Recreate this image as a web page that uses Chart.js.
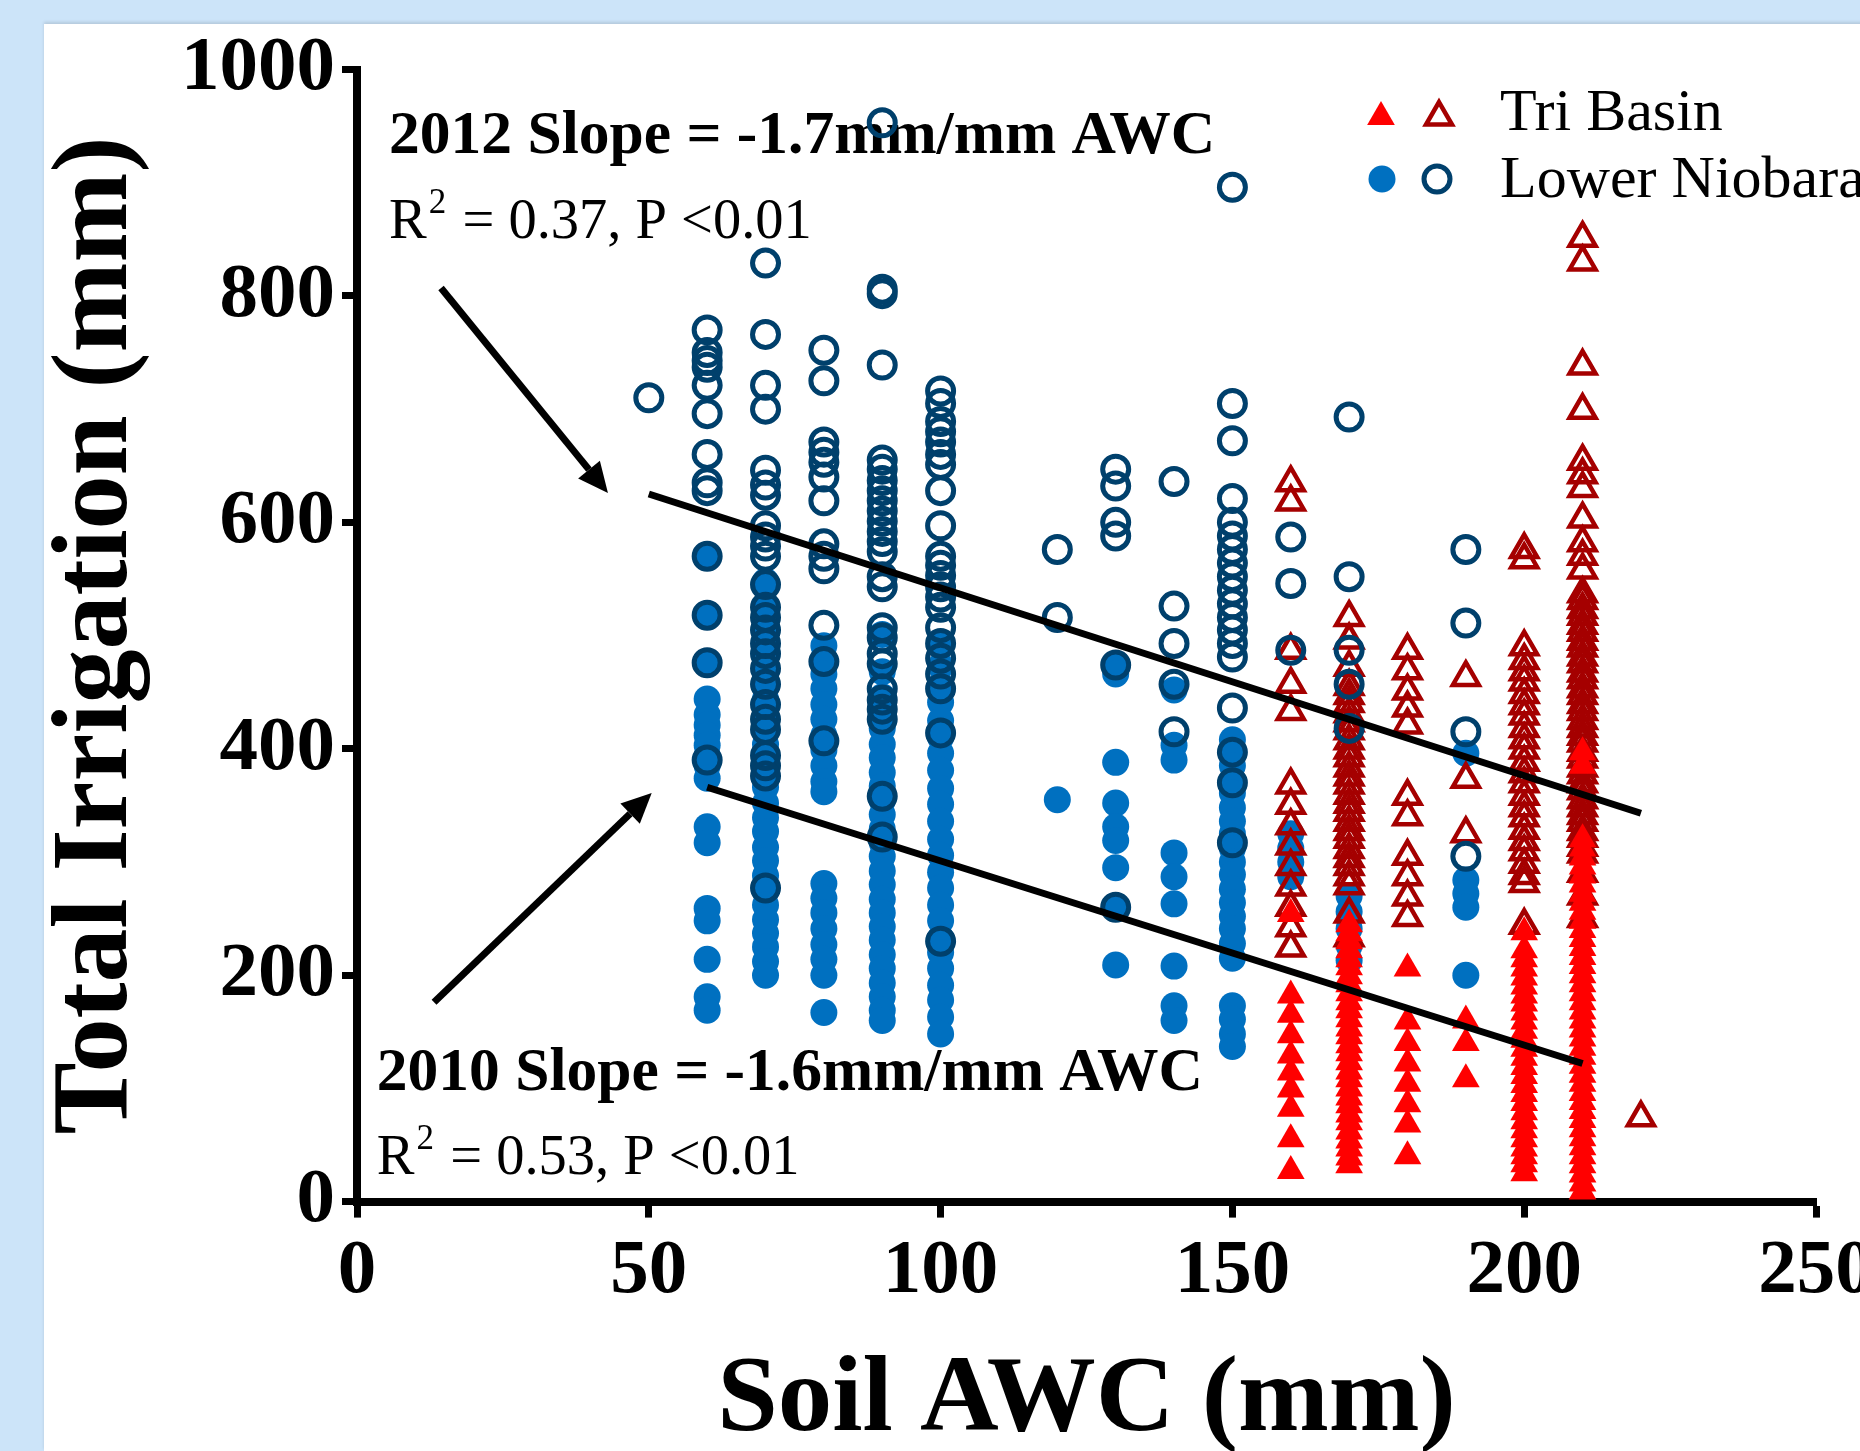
<!DOCTYPE html>
<html>
<head>
<meta charset="utf-8">
<script src="https://cdn.jsdelivr.net/npm/chart.js@4.4.1/dist/chart.umd.min.js"></script>
<style>
  html, body { margin: 0; padding: 0; width: 1860px; height: 1451px; overflow: hidden; background: #cce4f9; }
  #panel { position: absolute; left: 44px; top: 24px; width: 1900px; height: 1427px; background: #fff; box-shadow: 0 -2px 3px rgba(0,0,0,0.12); }
</style>
</head>
<body>
<div id="panel"><canvas id="scatter-chart"></canvas></div>
<script>
// Each entry: [soil AWC (mm), [total irrigation values (mm) at that AWC]]
const lowerNiobrara2012 = [
  [50, [710]],
  [60, [770, 750, 743, 737, 721, 696, 660, 635, 628, 570, 518, 476, 390]],
  [70, [829, 766, 721, 700, 646, 633, 624, 597, 587, 579, 570, 545, 525, 516, 505, 493, 484, 471, 457, 439, 426, 417, 394, 385, 376, 277]],
  [80, [752, 725, 671, 662, 653, 640, 619, 581, 570, 559, 509, 477, 407]],
  [90, [953, 806, 802, 739, 655, 647, 637, 628, 619, 610, 601, 592, 583, 574, 552, 543, 507, 498, 484, 475, 453, 443, 435, 426, 358, 322]],
  [100, [716, 705, 689, 680, 671, 660, 651, 628, 597, 570, 562, 553, 543, 534, 525, 507, 493, 480, 466, 453, 414, 230]],
  [120, [576, 516]],
  [130, [647, 632, 600, 588, 474, 260]],
  [140, [636, 526, 493, 457, 415]],
  [150, [896, 705, 672, 621, 600, 588, 576, 564, 552, 540, 528, 516, 505, 493, 481, 436, 397, 370, 317]],
  [160, [587, 546, 487]],
  [170, [693, 552, 487, 457, 418]],
  [190, [576, 511, 415, 305]]
];

const lowerNiobrara2010 = [
  [60, [570, 518, 476, 444, 430, 421, 412, 403, 394, 385, 374, 331, 317, 259, 248, 214, 181, 169]],
  [70, [548, 527, 506, 489, 473, 458, 444, 431, 418, 404, 391, 378, 366, 352, 339, 327, 313, 301, 288, 274, 262, 249, 237, 225, 212, 200]],
  [80, [491, 480, 466, 453, 439, 426, 412, 399, 385, 371, 362, 281, 268, 255, 241, 227, 214, 200, 167]],
  [90, [501, 468, 446, 431, 418, 404, 392, 379, 367, 354, 342, 329, 317, 305, 292, 280, 267, 255, 243, 231, 218, 206, 193, 181, 169, 160]],
  [100, [491, 473, 456, 441, 425, 410, 396, 381, 365, 351, 336, 320, 306, 291, 277, 262, 248, 233, 220, 206, 191, 178, 163, 148]],
  [120, [355]],
  [130, [474, 466, 388, 352, 331, 319, 295, 260, 209]],
  [140, [452, 403, 390, 308, 287, 263, 208, 173, 160]],
  [150, [408, 396, 385, 372, 361, 348, 336, 325, 312, 300, 289, 276, 264, 252, 241, 228, 215, 173, 161, 148, 137]],
  [160, [325, 312, 300, 287]],
  [170, [270, 256, 241, 226, 213]],
  [190, [396, 284, 272, 260, 200]]
];

const triBasin2012 = [
  [160, [635, 618, 487, 457, 433, 368, 350, 332, 314, 296, 278, 260, 242, 224]],
  [170, [516, 496, 472, 455, 447, 440, 431, 423, 416, 407, 399, 392, 383, 375, 368, 359, 351, 344, 335, 327, 320, 311, 303, 296, 287, 279, 254, 233]],
  [180, [487, 469, 451, 436, 421, 358, 340, 305, 287, 269, 251]],
  [190, [463, 373, 325]],
  [200, [576, 567, 490, 478, 468, 459, 448, 438, 429, 418, 408, 399, 388, 378, 369, 358, 348, 339, 328, 318, 309, 298, 288, 281, 244]],
  [210, [851, 830, 738, 699, 654, 642, 630, 603, 582, 570, 558, 537, 531, 523, 517, 509, 503, 495, 489, 481, 475, 467, 461, 453, 447, 439, 433, 425, 418, 411, 405, 397, 391, 383, 377, 369, 363, 355, 348, 341, 335, 327, 321, 313, 307, 290, 270, 250]],
  [220, [74]]
];

const triBasin2010 = [
  [160, [254, 182, 165, 147, 129, 114, 99, 82, 55, 27]],
  [170, [245, 237, 230, 222, 214, 207, 199, 192, 184, 176, 169, 161, 153, 146, 138, 131, 123, 115, 108, 100, 92, 85, 77, 70, 62, 54, 47, 39, 32]],
  [180, [206, 159, 140, 122, 104, 86, 68, 40]],
  [190, [160, 140, 108]],
  [200, [238, 222, 214, 206, 198, 190, 182, 175, 167, 159, 151, 143, 135, 127, 119, 111, 103, 95, 87, 79, 71, 63, 55, 47, 40, 33, 25]],
  [210, [397, 385, 320, 312, 304, 296, 288, 280, 272, 264, 256, 248, 240, 232, 224, 216, 208, 200, 192, 184, 176, 168, 160, 152, 144, 136, 128, 120, 112, 104, 96, 88, 80, 72, 64, 56, 48, 40, 32, 24, 16, 9]]
];

// regression line end points [AWC, irrigation]
const fit2012 = [[50, 625], [220, 343]];
const fit2010 = [[60, 366], [210, 122]];

const xTicks = [0, 50, 100, 150, 200, 250];
const yTicks = [0, 200, 400, 600, 800, 1000];

const FONT = "'Liberation Serif', 'Times New Roman', serif";
const NAVY = "#00406c";
const BLUE = "#0070c0";
const DARKRED = "#a50000";
const RED = "#ff0000";

// annotations, placed in data coordinates
const notes = [
  { x: 5.5, y: 926, title: "2012 Slope = -1.7mm/mm AWC", yStat: 851, stat: " = 0.37, P <0.01" },
  { x: 3.4, y: 99, title: "2010 Slope = -1.6mm/mm AWC", yStat: 24, stat: " = 0.53, P <0.01" }
];
const arrows = [
  [[14.4, 807], [43.0, 626]],
  [[13.2, 176], [50.5, 361]]
];

function toPoints(cols) {
  return cols.flatMap(([x, ys]) => ys.map(y => ({ x: x, y: y })));
}
function toLine(pts) {
  return pts.map(([x, y]) => ({ x: x, y: y }));
}

const openCircle = { pointStyle: "circle", pointRadius: 13, pointBorderWidth: 5, pointBorderColor: NAVY, pointBackgroundColor: "rgba(0,0,0,0)" };
const fillCircle = { pointStyle: "circle", pointRadius: 13.5, pointBorderWidth: 0, pointBackgroundColor: BLUE };
const openTri = { pointStyle: "triangle", pointRadius: 15, pointBorderWidth: 4.5, pointBorderColor: DARKRED, pointBackgroundColor: "rgba(0,0,0,0)" };
const fillTri = { pointStyle: "triangle", pointRadius: 16, pointBorderWidth: 0, pointBackgroundColor: RED };

// draws the notes under the points, arrows and legend on top
const extras = {
  id: "extras",
  beforeDatasetsDraw(chart) {
    const { ctx, scales: { x, y } } = chart;
    ctx.save();
    ctx.fillStyle = "#000";
    ctx.textBaseline = "alphabetic";
    ctx.textAlign = "left";
    notes.forEach(n => {
      const px = x.getPixelForValue(n.x);
      ctx.font = "bold 61.5px " + FONT;
      ctx.fillText(n.title, px, y.getPixelForValue(n.y));
      const py = y.getPixelForValue(n.yStat);
      ctx.font = "56.5px " + FONT;
      ctx.fillText("R", px, py);
      const rw = ctx.measureText("R").width;
      ctx.font = "35px " + FONT;
      ctx.fillText("2", px + rw + 2, py - 25);
      const sw = ctx.measureText("2").width;
      ctx.font = "56.5px " + FONT;
      ctx.fillText(n.stat, px + rw + sw + 4, py);
    });
    ctx.restore();
  },
  afterDatasetsDraw(chart) {
    const { ctx, scales: { x, y } } = chart;
    ctx.save();
    // arrows
    arrows.forEach(([a, b]) => {
      const x1 = x.getPixelForValue(a[0]), y1 = y.getPixelForValue(a[1]);
      const x2 = x.getPixelForValue(b[0]), y2 = y.getPixelForValue(b[1]);
      const ang = Math.atan2(y2 - y1, x2 - x1);
      const head = 30, half = 14;
      const bx = x2 - head * Math.cos(ang), by = y2 - head * Math.sin(ang);
      ctx.strokeStyle = "#000";
      ctx.lineWidth = 7;
      ctx.beginPath();
      ctx.moveTo(x1, y1);
      ctx.lineTo(bx, by);
      ctx.stroke();
      ctx.fillStyle = "#000";
      ctx.beginPath();
      ctx.moveTo(x2, y2);
      ctx.lineTo(bx + half * Math.sin(ang), by - half * Math.cos(ang));
      ctx.lineTo(bx - half * Math.sin(ang), by + half * Math.cos(ang));
      ctx.closePath();
      ctx.fill();
    });
    // legend
    const draw = Chart.helpers.drawPoint;
    ctx.fillStyle = RED;
    draw(ctx, { pointStyle: "triangle", radius: 16, borderWidth: 0, rotation: 0 }, 1337, 93);
    ctx.strokeStyle = DARKRED;
    ctx.fillStyle = "rgba(0,0,0,0)";
    ctx.lineWidth = 4.5;
    draw(ctx, { pointStyle: "triangle", radius: 15, borderWidth: 4.5, rotation: 0 }, 1395, 93);
    ctx.fillStyle = BLUE;
    draw(ctx, { pointStyle: "circle", radius: 13.5, borderWidth: 0, rotation: 0 }, 1338, 155);
    ctx.strokeStyle = NAVY;
    ctx.fillStyle = "rgba(0,0,0,0)";
    ctx.lineWidth = 5;
    draw(ctx, { pointStyle: "circle", radius: 13, borderWidth: 5, rotation: 0 }, 1393, 155);
    ctx.fillStyle = "#000";
    ctx.font = "60px " + FONT;
    ctx.textBaseline = "alphabetic";
    ctx.fillText("Tri Basin", 1456, 106);
    ctx.fillText("Lower Niobara", 1456, 173);
    ctx.restore();
  }
};

const tickFont = { family: FONT, size: 77, weight: "bold", lineHeight: 1 };

const config = {
  type: "scatter",
  data: {
    datasets: [
      { label: "2012 fit", data: toLine(fit2012), showLine: true, borderColor: "#000", borderWidth: 7, pointRadius: 0, order: 0 },
      { label: "2010 fit", data: toLine(fit2010), showLine: true, borderColor: "#000", borderWidth: 7, pointRadius: 0, order: 0 },
      Object.assign({ label: "Lower Niobara 2012", data: toPoints(lowerNiobrara2012), order: 1 }, openCircle),
      Object.assign({ label: "Tri Basin 2010", data: toPoints(triBasin2010), order: 2 }, fillTri),
      Object.assign({ label: "Tri Basin 2012", data: toPoints(triBasin2012), order: 3 }, openTri),
      Object.assign({ label: "Lower Niobara 2010", data: toPoints(lowerNiobrara2010), order: 4 }, fillCircle)
    ]
  },
  options: {
    responsive: true,
    maintainAspectRatio: false,
    animation: false,
    events: [],
    layout: { padding: { top: 44.8, right: 128, bottom: 0, left: 0 } },
    plugins: { legend: { display: false }, tooltip: { enabled: false } },
    scales: {
      x: {
        type: "linear",
        min: 0,
        max: 250,
        afterBuildTicks: s => { s.ticks = xTicks.map(v => ({ value: v })); },
        ticks: { color: "#000", font: tickFont, padding: 16, maxRotation: 0, autoSkip: false, callback: v => String(v) },
        grid: { drawOnChartArea: false, drawTicks: true, tickLength: 16, tickWidth: 7, tickColor: "#000" },
        border: { display: true, width: 8, color: "#000" },
        title: { display: true, text: "Soil AWC (mm)", color: "#000", font: { family: FONT, size: 109, weight: "bold", lineHeight: 0.9 }, padding: { top: 0, bottom: 0 } },
        afterFit: s => { s.height = 249.4; }
      },
      y: {
        type: "linear",
        min: 0,
        max: 1000,
        afterBuildTicks: s => { s.ticks = yTicks.map(v => ({ value: v })); },
        ticks: { color: "#000", font: tickFont, padding: 7, callback: v => String(v) },
        grid: { drawOnChartArea: false, drawTicks: true, tickLength: 15, tickWidth: 7, tickColor: "#000" },
        border: { display: true, width: 8, color: "#000" },
        title: { display: true, text: "Total Irrigation (mm)", color: "#000", font: { family: FONT, size: 108, weight: "bold", lineHeight: 1 }, padding: { top: 0, bottom: 0 } },
        afterFit: s => { s.width = 313; }
      }
    }
  },
  plugins: [extras]
};

new Chart(document.getElementById("scatter-chart").getContext("2d"), config);
</script>
</body>
</html>
